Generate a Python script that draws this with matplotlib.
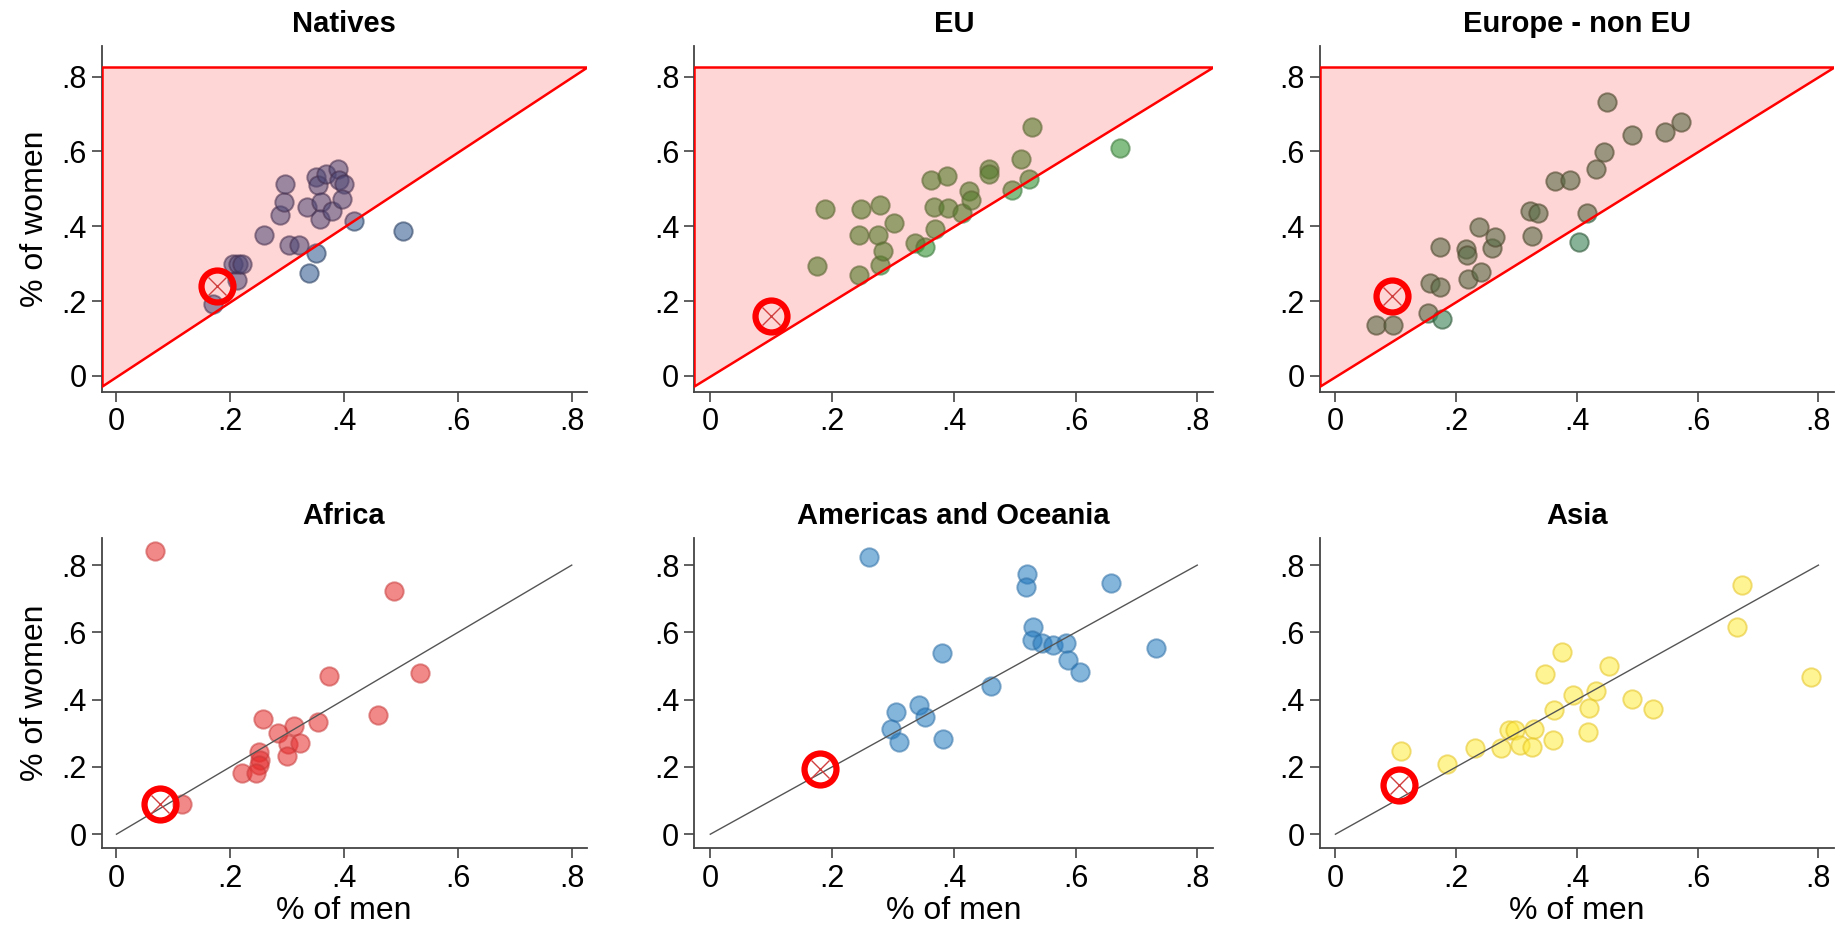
import matplotlib
matplotlib.use("Agg")
import matplotlib.pyplot as plt
from matplotlib.patches import Polygon

plt.rcParams["font.family"] = ["Liberation Sans", "DejaVu Sans"]

# share of men / women per country, by origin group
natives_men = [0.417, 0.504, 0.350, 0.339, 0.169, 0.211, 0.204, 0.214, 0.221,
               0.259, 0.287, 0.295, 0.297, 0.304, 0.320, 0.334, 0.351, 0.354,
               0.360, 0.357, 0.368, 0.379, 0.390, 0.391, 0.400, 0.397]
natives_women = [0.415, 0.388, 0.328, 0.275, 0.193, 0.257, 0.299, 0.299, 0.299,
                 0.376, 0.430, 0.466, 0.513, 0.350, 0.350, 0.451, 0.532, 0.510,
                 0.466, 0.420, 0.539, 0.441, 0.552, 0.523, 0.512, 0.474]

eu_men = [0.175, 0.188, 0.244, 0.244, 0.247, 0.276, 0.278, 0.278, 0.283, 0.301,
          0.336, 0.352, 0.369, 0.367, 0.362, 0.389, 0.391, 0.414, 0.425, 0.428,
          0.458, 0.458, 0.496, 0.510, 0.524, 0.528, 0.673]
eu_women = [0.293, 0.446, 0.270, 0.376, 0.446, 0.376, 0.457, 0.297, 0.333, 0.410,
            0.355, 0.344, 0.392, 0.452, 0.525, 0.534, 0.448, 0.435, 0.495, 0.470,
            0.554, 0.539, 0.498, 0.581, 0.526, 0.665, 0.609]

noneu_men = [0.068, 0.096, 0.153, 0.177, 0.156, 0.174, 0.174, 0.216, 0.218,
             0.219, 0.241, 0.238, 0.259, 0.264, 0.326, 0.323, 0.336, 0.404,
             0.417, 0.364, 0.388, 0.432, 0.445, 0.449, 0.492, 0.546, 0.572]
noneu_women = [0.135, 0.137, 0.169, 0.153, 0.248, 0.238, 0.344, 0.339, 0.324,
               0.259, 0.279, 0.399, 0.341, 0.372, 0.374, 0.442, 0.435, 0.358,
               0.435, 0.521, 0.523, 0.553, 0.599, 0.732, 0.645, 0.652, 0.678]

africa_men = [0.068, 0.487, 0.373, 0.534, 0.459, 0.258, 0.312, 0.354, 0.284,
              0.301, 0.322, 0.250, 0.299, 0.252, 0.251, 0.220, 0.245, 0.115]
africa_women = [0.843, 0.722, 0.470, 0.480, 0.354, 0.342, 0.323, 0.333, 0.300,
                0.267, 0.272, 0.245, 0.233, 0.220, 0.205, 0.181, 0.181, 0.089]

americas_men = [0.260, 0.521, 0.519, 0.658, 0.530, 0.529, 0.545, 0.563, 0.585,
                0.587, 0.608, 0.732, 0.380, 0.461, 0.343, 0.352, 0.305, 0.297,
                0.310, 0.383]
americas_women = [0.824, 0.773, 0.734, 0.746, 0.617, 0.576, 0.569, 0.563, 0.569,
                  0.518, 0.481, 0.555, 0.540, 0.441, 0.384, 0.349, 0.364, 0.312,
                  0.275, 0.283]

asia_men = [0.674, 0.665, 0.788, 0.375, 0.453, 0.347, 0.432, 0.394, 0.492, 0.362,
            0.420, 0.526, 0.287, 0.297, 0.329, 0.306, 0.326, 0.360, 0.419, 0.275,
            0.231, 0.185, 0.108]
asia_women = [0.741, 0.617, 0.466, 0.541, 0.500, 0.475, 0.426, 0.413, 0.401, 0.370,
              0.374, 0.372, 0.310, 0.310, 0.312, 0.265, 0.258, 0.280, 0.303, 0.255,
              0.255, 0.210, 0.247]

# reference country, one per panel
ref_men = [0.177, 0.100, 0.093, 0.077, 0.181, 0.106]
ref_women = [0.241, 0.161, 0.213, 0.091, 0.194, 0.146]

titles = ["Natives", "EU", "Europe - non EU", "Africa", "Americas and Oceania", "Asia"]
ticks = [0, 0.2, 0.4, 0.6, 0.8]
tick_labels = ["0", ".2", ".4", ".6", ".8"]

panels = [
    (natives_men, natives_women, (0.16, 0.33, 0.55), 0.55),
    (eu_men, eu_women, (0.20, 0.58, 0.20), 0.6),
    (noneu_men, noneu_women, (0.22, 0.50, 0.33), 0.6),
    (africa_men, africa_women, (0.90, 0.16, 0.16), 0.55),
    (americas_men, americas_women, (0.12, 0.47, 0.75), 0.55),
    (asia_men, asia_women, (1.00, 0.92, 0.24), 0.55),
]
edge_colors = ["#1f3559", "#3f7a3f", "#2c5535", "#c83a3a", "#2e6fa5", "#e3c21e"]

XLIM = (-0.026, 0.826)
YLIM = (-0.042, 0.882)

fig = plt.figure(figsize=(18.45, 9.3), dpi=100)

lefts = [0.0551, 0.3764, 0.7153]
widths = [0.2628, 0.2811, 0.2788]
rows = [(0.5788, 0.3718), (0.0878, 0.3342)]

for i, (men, women, col, alpha) in enumerate(panels):
    r, c = divmod(i, 3)
    ax = fig.add_axes([lefts[c], rows[r][0], widths[c], rows[r][1]])

    ax.scatter(men, women, s=175, color=col, alpha=alpha,
               edgecolors=edge_colors[i], linewidths=1.4, zorder=3)

    if r == 0:
        # region where women's share exceeds men's
        lo, hi = XLIM[0], XLIM[1]
        tri = Polygon([(lo, lo), (lo, hi), (hi, hi)], closed=True,
                      facecolor=(1, 0, 0, 0.16), edgecolor="red", lw=1.8, zorder=4)
        ax.add_patch(tri)
    else:
        ax.plot([0, 0.8], [0, 0.8], color="#555555", lw=1.0, zorder=4)

    ax.plot(ref_men[i], ref_women[i], marker="o", ms=23, mfc="none",
            mec="red", mew=4.5, zorder=6)
    ax.plot(ref_men[i], ref_women[i], marker="x", ms=13, color="#d04040",
            mew=1.0, zorder=6)

    ax.set_xlim(*XLIM)
    ax.set_ylim(*YLIM)
    ax.set_xticks(ticks)
    ax.set_xticklabels(tick_labels)
    ax.set_yticks(ticks)
    ax.set_yticklabels(tick_labels)
    ax.tick_params(labelsize=22, length=7, width=1.2, color="#444444", pad=4)
    for s in ["top", "right"]:
        ax.spines[s].set_visible(False)
    for s in ["left", "bottom"]:
        ax.spines[s].set_color("#444444")
        ax.spines[s].set_linewidth(1.3)

    ax.set_title(titles[i], fontsize=21, fontweight="bold", pad=10)
    if c == 0:
        ax.set_ylabel("% of women", fontsize=23, labelpad=8)
    if r == 1:
        ax.set_xlabel("% of men", fontsize=23, labelpad=2)

fig.savefig("out.png", dpi=100)
